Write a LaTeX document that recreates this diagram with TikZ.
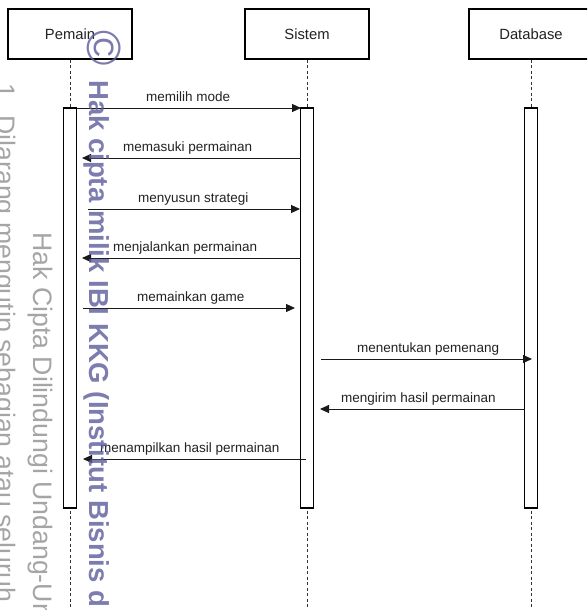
\documentclass[tikz,border=0pt]{standalone}
\usepackage{fontspec}
\setmainfont{Liberation Sans}
\usetikzlibrary{arrows.meta}
\definecolor{wm}{RGB}{91,91,155}
\definecolor{wmg}{RGB}{165,165,165}
\definecolor{txt}{RGB}{34,34,34}
\begin{document}
\begin{tikzpicture}[x=1pt,y=-1pt,
  actor/.style={draw=black,line width=1.1pt,fill=white,minimum width=124pt,minimum height=50pt,inner sep=0pt,font=\fontsize{14.8}{16}\selectfont,text=txt},
  actbar/.style={draw=black,line width=1.1pt,fill=white,minimum width=13pt,minimum height=400pt,inner sep=0pt},
  life/.style={line width=1pt,dash pattern=on 3pt off 2.5pt,draw=black!80},
  msg/.style={line width=1pt,draw=black!90,-{Triangle[length=9pt,width=8pt]}},
  lbl/.style={font=\fontsize{13.5}{15}\selectfont,text=txt,inner sep=0pt,anchor=base west},
  wmark/.style={rotate=-90,anchor=base west,inner sep=0pt,font=\fontsize{26.7}{30}\selectfont}
]
\useasboundingbox (0,0) rectangle (587,610);
\clip (0,0) rectangle (587,610);

% actors
\node[actor] (pemain) at (70,34) {Pemain};
\node[actor] (sistem) at (307,34) {Sistem};
\node[actor] (database) at (531,34) {Database};

% lifelines
\coordinate (pend) at (70,612);
\coordinate (send) at (307,612);
\coordinate (dend) at (531,612);
\draw[life] (pemain.south) -- (pend);
\draw[life] (sistem.south) -- (send);
\draw[life] (database.south) -- (dend);

% activation bars
\node[actbar] (pbar) at (70,308) {};
\node[actbar] (sbar) at (307,308) {};
\node[actbar] (dbar) at (531,308) {};

% message end points
\coordinate (a1s) at (77,108);  \coordinate (a1e) at (301,108);
\coordinate (a2s) at (301,158); \coordinate (a2e) at (82,158);
\coordinate (a3s) at (88,209);  \coordinate (a3e) at (300,209);
\coordinate (a4s) at (301,258); \coordinate (a4e) at (82,258);
\coordinate (a5s) at (83,308);  \coordinate (a5e) at (295,308);
\coordinate (a6s) at (321,359); \coordinate (a6e) at (532,359);
\coordinate (a7s) at (525,409); \coordinate (a7e) at (320,409);
\coordinate (a8s) at (306,459); \coordinate (a8e) at (83,459);

\draw[msg] (a1s) -- (a1e);
\draw[msg] (a2s) -- (a2e);
\draw[msg] (a3s) -- (a3e);
\draw[msg] (a4s) -- (a4e);
\draw[msg] (a5s) -- (a5e);
\draw[msg] (a6s) -- (a6e);
\draw[msg] (a7s) -- (a7e);
\draw[msg] (a8s) -- (a8e);

% labels
\node[lbl] (l1) at (146,101) {memilih mode};
\node[lbl] (l2) at (123,151) {memasuki permainan};
\node[lbl] (l3) at (138,202) {menyusun strategi};
\node[lbl] (l4) at (113,251) {menjalankan permainan};
\node[lbl] (l5) at (137,301) {memainkan game};
\node[lbl] (l6) at (357,352) {menentukan pemenang};
\node[lbl] (l7) at (341,402) {mengirim hasil permainan};
\node[lbl] (l8) at (100,452) {menampilkan hasil permainan};

% watermark
\begin{scope}[opacity=0.8]
\node[rotate=-90,inner sep=0pt,text=wm,font=\fontsize{48}{52}\selectfont] (wmc) at (104,48) {©};
\node[wmark,text=wm,font=\fontsize{27.5}{30}\selectfont\bfseries] (wmb) at (89.5,80) {Hak cipta milik IBI KKG (Institut Bisnis d};
\end{scope}
\node[wmark,text=wmg] (wm2) at (33,232) {Hak Cipta Dilindungi Undang-Un};
\node[wmark,text=wmg] (wm3) at (-4,83) {1. Dilarang mengutip sebagian atau seluruh};
\end{tikzpicture}
\end{document}
